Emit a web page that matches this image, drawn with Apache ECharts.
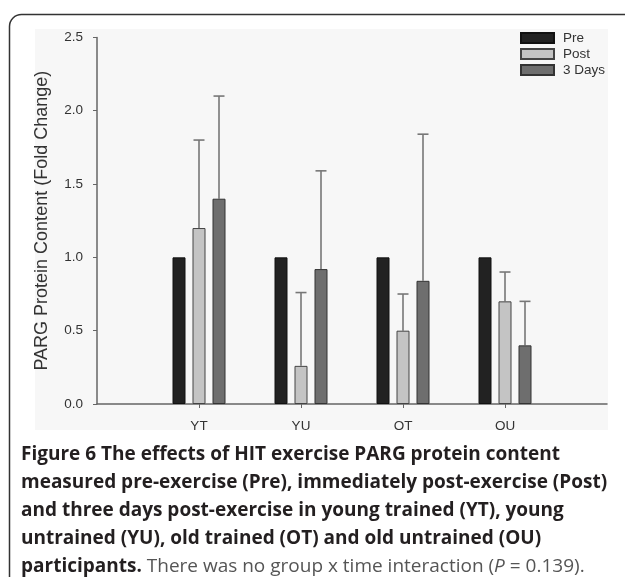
<!DOCTYPE html>
<html>
<head>
<meta charset="utf-8">
<script src="https://cdn.jsdelivr.net/npm/echarts@6/dist/echarts.min.js"></script>
<style>
  html, body { margin: 0; padding: 0; background: #fff; }
  #chart { width: 625px; height: 577px; }
</style>
</head>
<body>
<div id="chart"></div>
<script>
var groups = ['YT', 'YU', 'OT', 'OU'];
var seriesNames = ['Pre', 'Post', '3 Days'];
var preMean = [1.0, 1.0, 1.0, 1.0];
var postMean = [1.20, 0.26, 0.50, 0.70];
var postUpper = [1.80, 0.76, 0.75, 0.90];
var daysMean = [1.40, 0.92, 0.84, 0.40];
var daysUpper = [2.10, 1.59, 1.84, 0.70];
var yTicks = [0, 0.5, 1.0, 1.5, 2.0, 2.5];

// empty slots at both ends so the groups sit where the original does
var categories = [''].concat(groups, ['']);

var chartFont = 'Liberation Sans, Arial, sans-serif';
var capFont = '"Open Sans", sans-serif';
var barW = 13;
var gapPx = 7;

function pairs(vals) {
  return groups.map(function (g, i) { return [g, vals[i]]; });
}
function triples(vals, upper) {
  return groups.map(function (g, i) { return [g, vals[i], upper[i]]; });
}

// error bar drawn upward from the bar top
function errRender(offset) {
  return function (params, api) {
    var lo = api.coord([api.value(0), api.value(1)]);
    var hi = api.coord([api.value(0), api.value(2)]);
    var x = lo[0] + offset;
    var st = { stroke: '#777', lineWidth: 1.6 };
    return {
      type: 'group',
      children: [
        { type: 'line', shape: { x1: x, y1: lo[1], x2: x, y2: hi[1] }, style: st },
        { type: 'line', shape: { x1: x - 5.5, y1: hi[1], x2: x + 5.5, y2: hi[1] }, style: st }
      ]
    };
  };
}

var capLines = [
  '{b|Figure 6 The effects of HIT exercise PARG protein content}',
  '{b|measured pre-exercise (Pre), immediately post-exercise (Post)}',
  '{b|and three days post-exercise in young trained (YT), young}',
  '{b|untrained (YU), old trained (OT) and old untrained (OU)}',
  '{b|participants.}{r| There was no group x time interaction (}{i|P}{r| = 0.139).}'
];
var capSize = 19;
var capRich = {
  b: { fontFamily: capFont, fontSize: capSize, fontWeight: 'bold', fill: '#231f20' },
  r: { fontFamily: capFont, fontSize: capSize, fill: '#555' },
  i: { fontFamily: capFont, fontSize: capSize, fontStyle: 'italic', fill: '#555' }
};

var graphics = [
  {
    type: 'rect', z: -10, silent: true,
    shape: { x: 35, y: 29, width: 573, height: 401 },
    style: { fill: '#f7f7f7' }
  },
  {
    type: 'rect', z: 10, silent: true,
    shape: { x: 9.5, y: 14.5, width: 700, height: 700, r: 12 },
    style: { fill: 'none', stroke: '#333', lineWidth: 1.5 }
  }
];
capLines.forEach(function (t, i) {
  graphics.push({
    type: 'text', x: 21, y: 455 + i * 28, silent: true,
    style: { text: t, rich: capRich, verticalAlign: 'middle' }
  });
});

var myChart = echarts.init(document.getElementById('chart'));

var option = {
  backgroundColor: '#fff',
  animation: false,
  textStyle: { fontFamily: chartFont },
  grid: { left: 97, right: 18, top: 37.4, bottom: 173 },
  legend: {
    data: seriesNames,
    orient: 'vertical',
    left: 520, top: 31, padding: 0,
    itemWidth: 33, itemHeight: 10, itemGap: 2,
    icon: 'rect',
    textStyle: { fontFamily: chartFont, fontSize: 13.5, color: '#333', padding: [0, 0, 0, 4] }
  },
  xAxis: {
    type: 'category',
    data: categories,
    boundaryGap: false,
    axisLine: { lineStyle: { color: '#666', width: 1.5 } },
    axisTick: {
      length: 4,
      interval: function (i, v) { return v !== ''; },
      lineStyle: { color: '#666' }
    },
    axisLabel: { fontSize: 13.5, color: '#333', margin: 15, interval: 0 }
  },
  yAxis: {
    type: 'value',
    min: 0, max: 2.5, interval: 0.5,
    name: 'PARG Protein Content (Fold Change)',
    nameLocation: 'middle',
    nameGap: 46,
    nameTextStyle: { fontSize: 18, color: '#333', fontFamily: chartFont },
    axisLine: { show: true, lineStyle: { color: '#666', width: 1.5 } },
    axisTick: { show: true, length: 4, lineStyle: { color: '#666' } },
    splitLine: { show: false },
    axisLabel: {
      fontSize: 13.5, color: '#333', margin: 14,
      formatter: function (v) { return yTicks.indexOf(v) >= 0 ? v.toFixed(1) : ''; }
    }
  },
  graphic: graphics,
  series: [
    {
      name: 'Pre', type: 'bar', barWidth: barW, barGap: (gapPx / barW * 100) + '%',
      itemStyle: { color: '#222', borderColor: '#111', borderWidth: 1 },
      data: pairs(preMean)
    },
    {
      name: 'Post', type: 'bar', barWidth: barW, barGap: (gapPx / barW * 100) + '%',
      itemStyle: { color: '#c4c4c4', borderColor: '#444', borderWidth: 1 },
      data: pairs(postMean)
    },
    {
      name: '3 Days', type: 'bar', barWidth: barW, barGap: (gapPx / barW * 100) + '%',
      itemStyle: { color: '#6e6e6e', borderColor: '#333', borderWidth: 1 },
      data: pairs(daysMean)
    },
    {
      type: 'custom', z: 1,
      renderItem: errRender(0),
      data: triples(postMean, postUpper)
    },
    {
      type: 'custom', z: 1,
      renderItem: errRender(barW + gapPx),
      data: triples(daysMean, daysUpper)
    }
  ]
};

myChart.setOption(option);
</script>
</body>
</html>
